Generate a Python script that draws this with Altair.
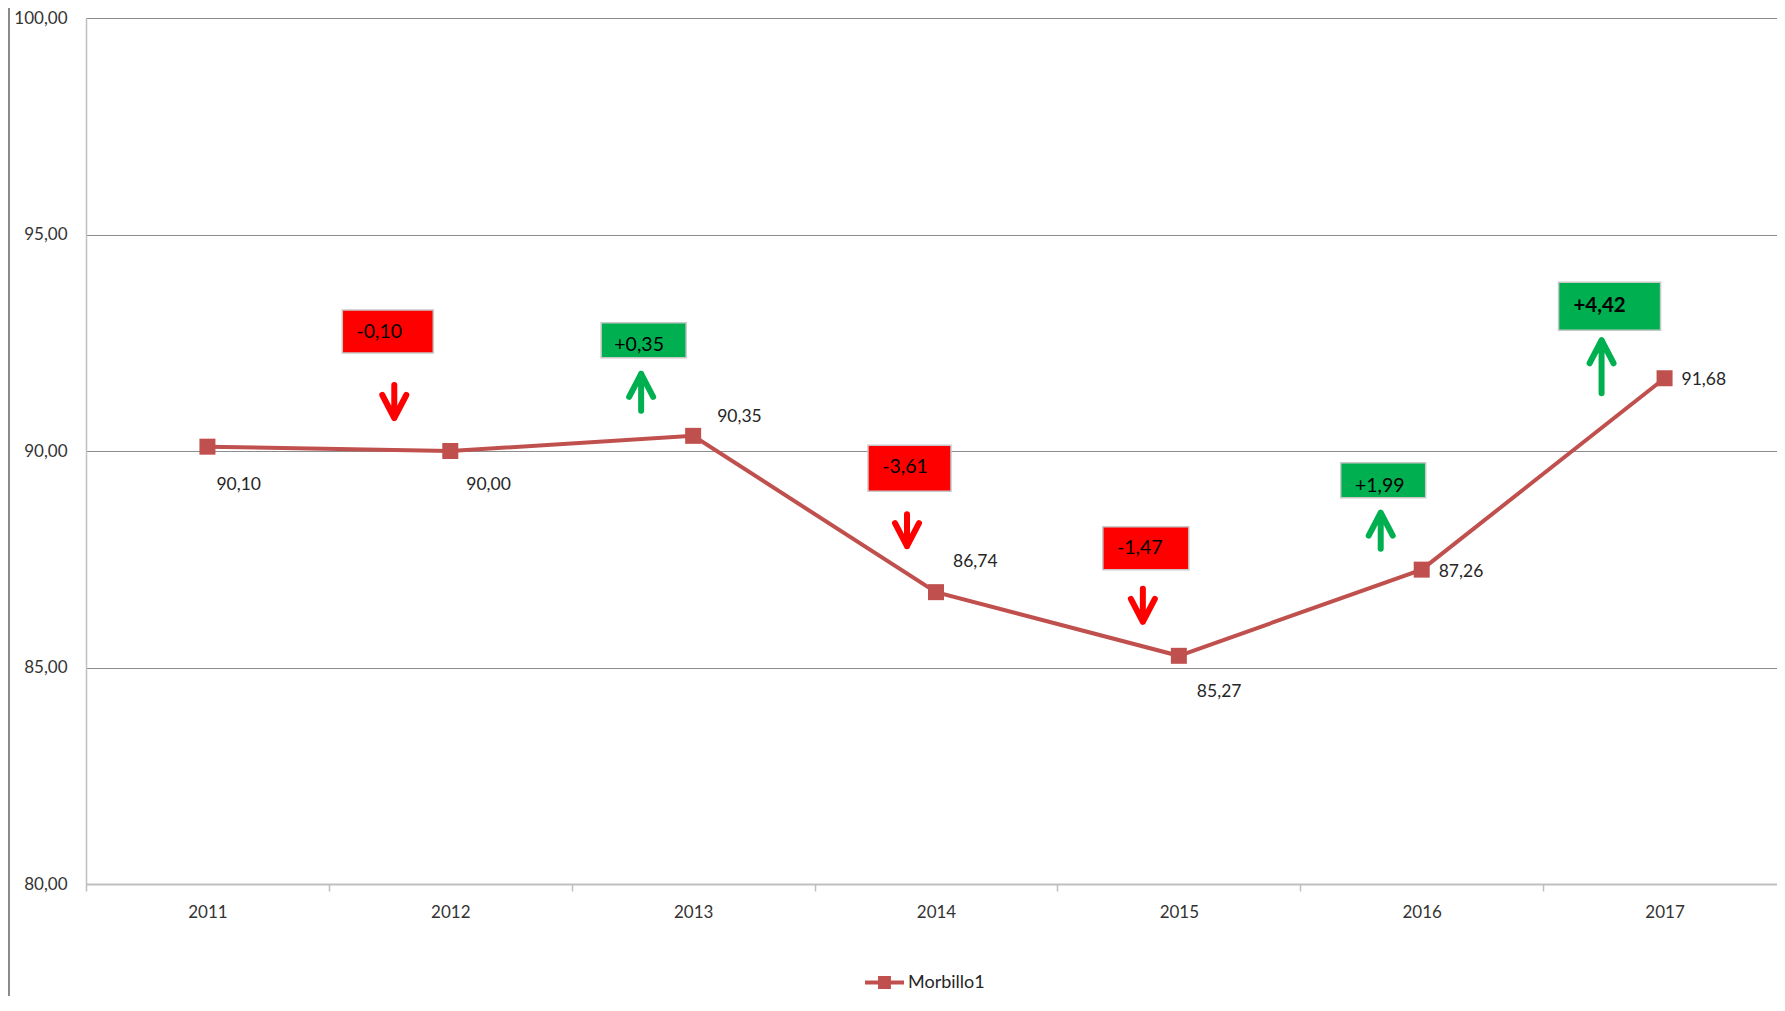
import altair as alt
import pandas as pd

# ---------------- data ----------------
years = ["2011", "2012", "2013", "2014", "2015", "2016", "2017"]
values = [90.10, 90.00, 90.35, 86.74, 85.27, 87.26, 91.68]
series_name = "Morbillo1"
y_ticks = [80, 85, 90, 95, 100]
y_domain = [80, 100]

# ---------------- layout / style ----------------
W, H = 1700, 866
FONT = "Lato"
LINE_COLOR = "#C0504D"
RED = "#FF0000"
GREEN = "#00B050"
AXIS_GRAY = "#bfbfbf"
GRID_GRAY = "#8c8c8c"

# data label offsets (px) relative to each point
label_off = [(9, 38), (16, 34), (24, -19), (17, -30), (18, 36), (17, 2), (17, 2)]
# change boxes (dx, dy, w, h) relative to the point of the later year
box_off = [(-62.5, -119.5, 91, 43), (-49.5, -95.5, 85, 35), (-26.5, -124, 83, 46),
           (-33, -107.5, 86, 43), (-38.5, -89.5, 85, 35), (-55, -72, 102, 48)]
text_off = [(-71, -119), (-54, -91), (-31, -125), (-39, -108), (-42, -84), (-65, -72)]
arrow_off = [(-56, -49.5, 39), (-52, -43.5, 43), (-29, -62, 38),
             (-36, -50.5, 39), (-41, -39, 42), (-63, -11.5, 59)]


def fmt(v, sign=False):
    s = f"{v:+.2f}" if sign else f"{v:.2f}"
    return s.replace(".", ",")


def box_path(w, h):
    r = h / w
    return f"M-1,{-r:.4f}H1V{r:.4f}H-1Z"


def arrow_path(length, up, sw=6, hw_px=12, hh_px=23):
    lp = length - sw
    s = lp / 2.0
    hw = hw_px / s
    hh = hh_px / s
    if up:
        return (f"M0,1L0,-1M{-hw:.4f},{-1 + hh:.4f}L0,-1L{hw:.4f},{-1 + hh:.4f}", lp * lp)
    return (f"M0,-1L0,1M{-hw:.4f},{1 - hh:.4f}L0,1L{hw:.4f},{1 - hh:.4f}", lp * lp)


df = pd.DataFrame({
    "year": years,
    "value": values,
    "series": [series_name] * len(years),
    "label": [fmt(v) for v in values],
})

x_enc = alt.X(
    "year:O",
    scale=alt.Scale(type="band", domain=years, paddingInner=0, paddingOuter=0),
    axis=alt.Axis(title=None, labelAngle=0, grid=False, tickBand="extent",
                  tickColor=AXIS_GRAY, tickSize=7, tickWidth=1.5,
                  domainColor=AXIS_GRAY, domainWidth=2,
                  labelPadding=13, labelFontSize=17, labelColor="#333333",
                  labelFont=FONT),
)
y_enc = alt.Y(
    "value:Q",
    scale=alt.Scale(domain=y_domain, nice=False, zero=False),
    axis=alt.Axis(title=None, values=y_ticks, grid=True, gridColor=GRID_GRAY,
                  gridWidth=1, ticks=False, tickSize=0, domainColor=AXIS_GRAY,
                  domainWidth=1.5, labelPadding=19, labelFontSize=17,
                  labelColor="#333333", labelFont=FONT,
                  labelExpr="replace(format(datum.value, '.2f'), '.', ',')"),
)

legend_path = "M-1,-0.1H1V0.1H-1Z M-0.33,-0.33H0.33V0.33H-0.33Z"

base = alt.Chart(df)
line = base.mark_line(color=LINE_COLOR, strokeWidth=4).encode(x=x_enc, y=y_enc)
pts = base.mark_point(shape="square", filled=True, size=256, opacity=1).encode(
    x="year:O",
    y="value:Q",
    color=alt.Color(
        "series:N",
        scale=alt.Scale(domain=[series_name], range=[LINE_COLOR]),
        legend=alt.Legend(title=None, orient="none", legendX=779, legendY=945,
                          symbolType=legend_path, symbolSize=1521,
                          symbolStrokeWidth=0, labelFont=FONT, labelFontSize=18,
                          labelColor="#262626", labelOffset=4, padding=0),
    ),
)

layers = [line, pts]

# data labels
for i in range(len(years)):
    dx, dy = label_off[i]
    layers.append(
        alt.Chart(df.iloc[[i]]).mark_text(
            align="left", baseline="middle", dx=dx, dy=dy, font=FONT,
            fontSize=17.5, color="#262626"
        ).encode(x="year:O", y="value:Q", text="label:N")
    )

# change annotations
for i in range(1, len(years)):
    delta = values[i] - values[i - 1]
    up = delta > 0
    col = GREEN if up else RED
    row = pd.DataFrame({"year": [years[i]], "value": [values[i]],
                        "label": [fmt(delta, sign=True)]})
    bdx, bdy, bw, bh = box_off[i - 1]
    tdx, tdy = text_off[i - 1]
    adx, ady, alen = arrow_off[i - 1]
    bold = i == len(years) - 1
    layers.append(
        alt.Chart(row).mark_point(
            shape=box_path(bw, bh), size=bw * bw, filled=True, fill=col,
            opacity=1, stroke="#c8c8c8", strokeWidth=1.5,
            xOffset=bdx, yOffset=bdy
        ).encode(x="year:O", y="value:Q")
    )
    layers.append(
        alt.Chart(row).mark_text(
            align="center", baseline="middle", dx=tdx, dy=tdy, font=FONT,
            fontSize=20.5 if bold else 19.5, fontWeight="bold" if bold else "normal",
            color="#000000"
        ).encode(x="year:O", y="value:Q", text="label:N")
    )
    ap, asize = arrow_path(alen, up)
    layers.append(
        alt.Chart(row).mark_point(
            shape=ap, size=asize, filled=False, stroke=col, strokeWidth=6,
            strokeCap="round", strokeJoin="round", opacity=1,
            xOffset=adx, yOffset=ady
        ).encode(x="year:O", y="value:Q")
    )

# outer chart-area edge on the left
border = alt.Chart(pd.DataFrame({"a": [0]})).mark_rule(
    color="#8a8a8a", strokeWidth=2
).encode(x=alt.value(-77), y=alt.value(-10), y2=alt.value(H + 125))
layers.append(border)

chart = alt.layer(*layers).properties(
    width=W,
    height=H,
    padding={"left": 78, "top": 10, "right": -9, "bottom": 112},
    autosize=alt.AutoSizeParams(type="none"),
).configure_view(stroke="transparent").configure(background="white")

chart.save("out.html", embed_options={"renderer": "svg", "actions": False})
